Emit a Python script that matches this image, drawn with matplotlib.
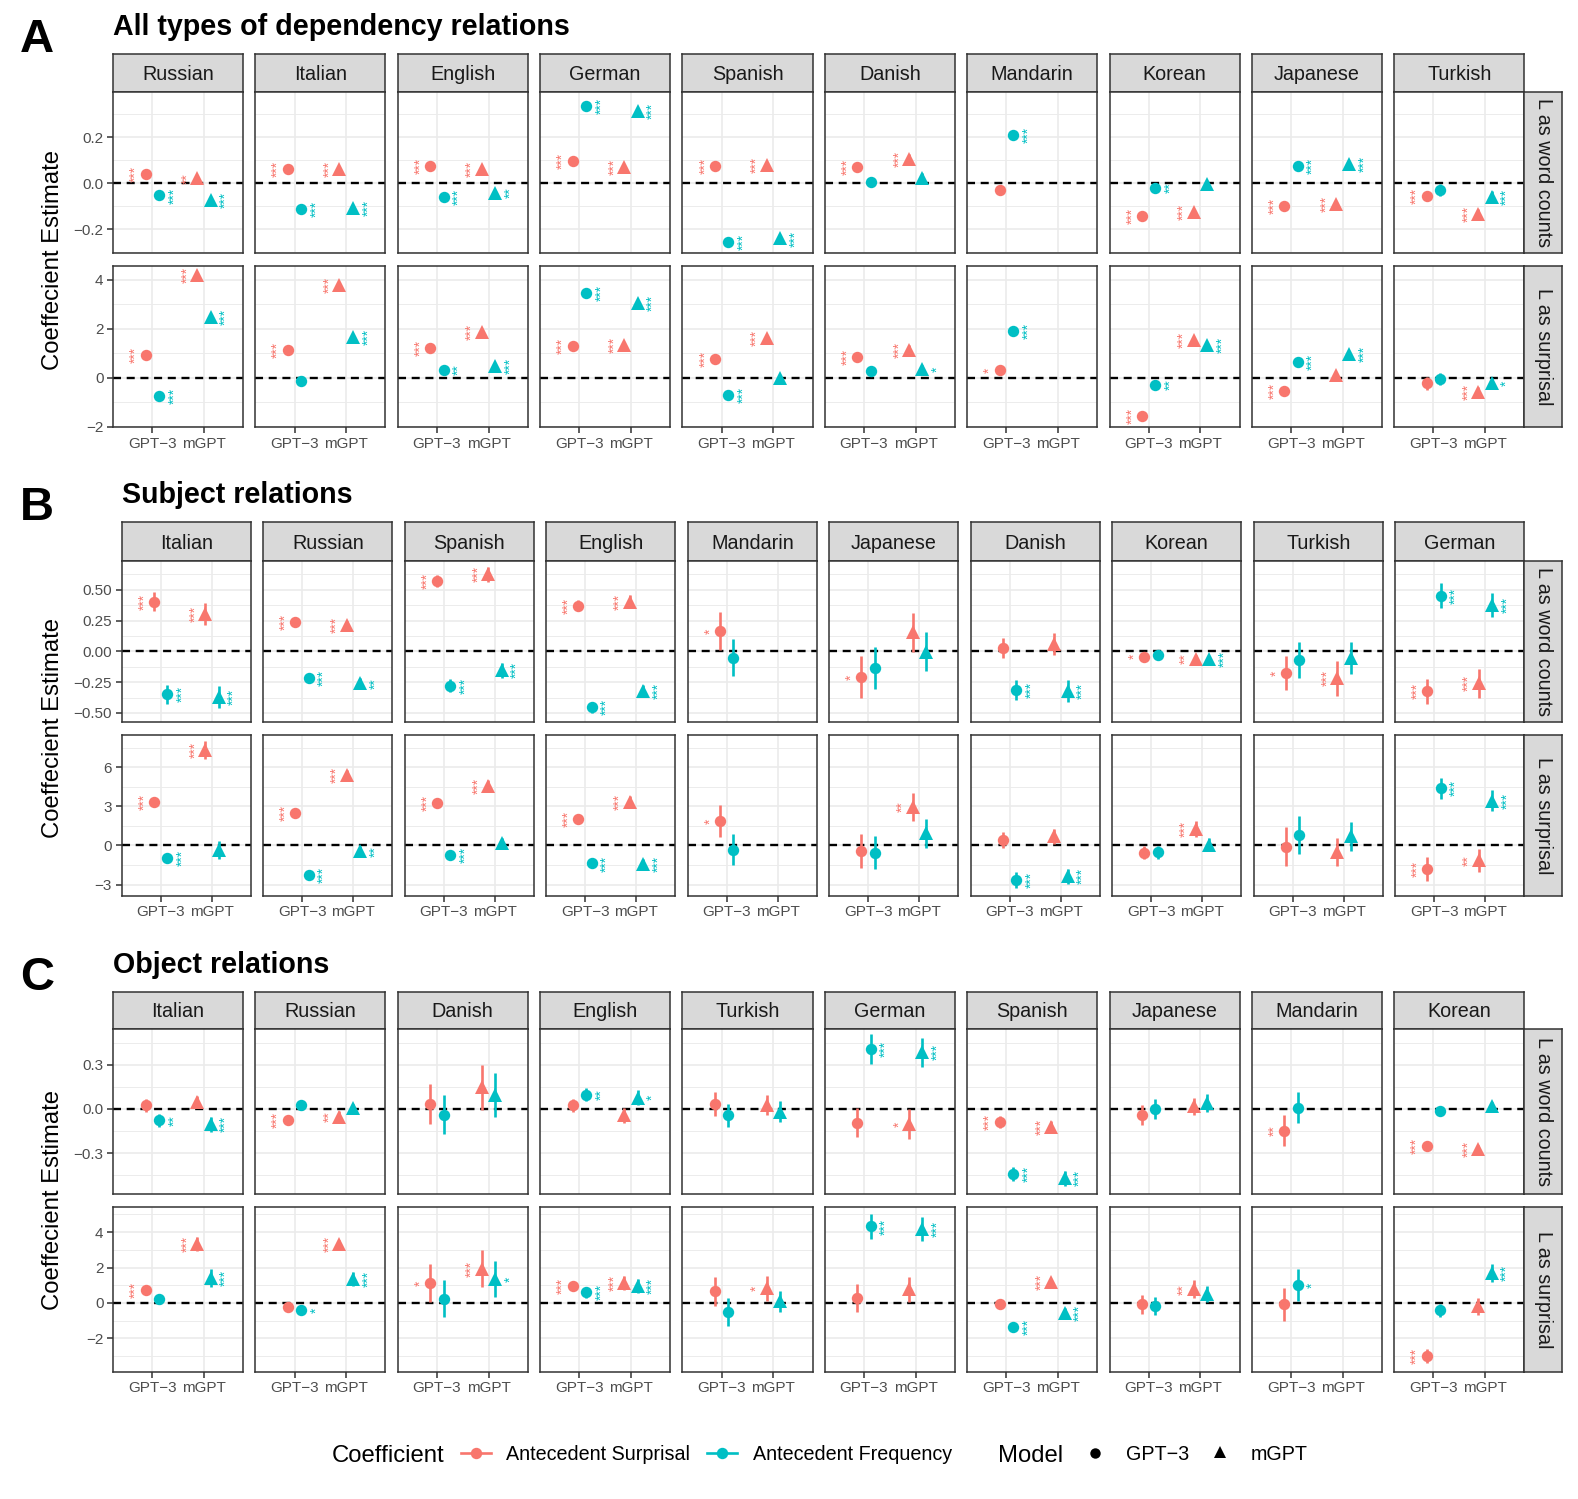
import matplotlib
matplotlib.use("Agg")
import matplotlib.pyplot as plt
import numpy as np

plt.rcParams['font.family'] = ['Liberation Sans', 'DejaVu Sans']

W, H = 1578, 1499
RED = '#F8766D'
CYAN = '#00BFC4'

MODELS = ["GPT\u22123", "mGPT"]
COEFS = ["Antecedent Surprisal", "Antecedent Frequency"]
ROW_LABELS = ["L as word counts", "L as surprisal"]
Y_TITLE = "Coeffecient Estimate"

# ---------------- Panel A: All types of dependency relations ----------------
A_TITLE = "All types of dependency relations"
A_LANGS = ["Russian", "Italian", "English", "German", "Spanish", "Danish",
           "Mandarin", "Korean", "Japanese", "Turkish"]
# word counts
A_WC_S_G = [0.039, 0.063, 0.074, 0.099, 0.077, 0.070, -0.029, -0.141, -0.100, -0.057]
A_WC_F_G = [-0.053, -0.111, -0.060, 0.337, -0.254, 0.004, 0.209, -0.019, 0.076, -0.029]
A_WC_S_M = [0.022, 0.063, 0.063, 0.073, 0.080, 0.106, None, -0.123, -0.091, -0.134]
A_WC_F_M = [-0.073, -0.109, -0.041, 0.316, -0.240, 0.023, None, -0.004, 0.084, -0.059]
A_WC_S_G_ERR = [0.008, 0.008, 0.008, 0.010, 0.008, 0.015, 0.020, 0.010, 0.010, 0.020]
A_WC_F_G_ERR = [0.008, 0.008, 0.008, 0.010, 0.008, 0.018, 0.020, 0.010, 0.010, 0.025]
A_WC_S_M_ERR = [0.008, 0.008, 0.008, 0.010, 0.008, 0.020, None, 0.010, 0.010, 0.020]
A_WC_F_M_ERR = [0.008, 0.008, 0.008, 0.010, 0.008, 0.020, None, 0.010, 0.010, 0.025]
A_WC_S_G_SIG = ["***", "***", "***", "***", "***", "***", "", "***", "***", "***"]
A_WC_F_G_SIG = ["***", "***", "***", "***", "***", "", "***", "**", "***", ""]
A_WC_S_M_SIG = ["**", "***", "***", "***", "***", "***", None, "***", "***", "***"]
A_WC_F_M_SIG = ["***", "***", "**", "***", "***", "", None, "", "***", "***"]
# surprisal
A_SU_S_G = [0.95, 1.16, 1.22, 1.31, 0.76, 0.84, 0.31, -1.54, -0.52, -0.22]
A_SU_F_G = [-0.72, -0.12, 0.33, 3.47, -0.71, 0.29, 1.90, -0.27, 0.65, -0.05]
A_SU_S_M = [4.20, 3.78, 1.86, 1.35, 1.63, 1.14, None, 1.55, 0.12, -0.56]
A_SU_F_M = [2.48, 1.69, 0.50, 3.07, -0.01, 0.35, None, 1.35, 0.98, -0.22]
A_SU_S_G_ERR = [0.10, 0.10, 0.10, 0.10, 0.10, 0.15, 0.20, 0.12, 0.12, 0.25]
A_SU_F_G_ERR = [0.10, 0.10, 0.10, 0.10, 0.10, 0.15, 0.20, 0.12, 0.12, 0.25]
A_SU_S_M_ERR = [0.10, 0.10, 0.10, 0.10, 0.10, 0.20, None, 0.12, 0.12, 0.20]
A_SU_F_M_ERR = [0.10, 0.10, 0.10, 0.10, 0.10, 0.20, None, 0.12, 0.12, 0.20]
A_SU_S_G_SIG = ["***", "***", "***", "***", "***", "***", "*", "***", "***", ""]
A_SU_F_G_SIG = ["***", "", "**", "***", "***", "", "***", "**", "***", ""]
A_SU_S_M_SIG = ["***", "***", "***", "***", "***", "***", None, "***", "", "***"]
A_SU_F_M_SIG = ["***", "***", "***", "***", "", "*", None, "***", "***", "*"]
A_WC_TICKS = [-0.2, 0.0, 0.2]
A_WC_TICKLABELS = ["\u22120.2", "0.0", "0.2"]
A_SU_TICKS = [-2, 0, 2, 4]
A_SU_TICKLABELS = ["\u22122", "0", "2", "4"]

# ---------------- Panel B: Subject relations ----------------
B_TITLE = "Subject relations"
B_LANGS = ["Italian", "Russian", "Spanish", "English", "Mandarin", "Japanese",
           "Danish", "Korean", "Turkish", "German"]
B_WC_S_G = [0.403, 0.238, 0.570, 0.370, 0.162, -0.211, 0.027, -0.043, -0.176, -0.324]
B_WC_F_G = [-0.349, -0.216, -0.278, -0.454, -0.051, -0.132, -0.314, -0.032, -0.073, 0.451]
B_WC_S_M = [0.305, 0.214, 0.624, 0.403, None, 0.154, 0.057, -0.062, -0.219, -0.260]
B_WC_F_M = [-0.370, -0.260, -0.154, -0.319, None, -0.003, -0.319, -0.065, -0.051, 0.376]
B_WC_S_G_ERR = [0.075, 0.030, 0.050, 0.045, 0.155, 0.170, 0.080, 0.020, 0.140, 0.100]
B_WC_F_G_ERR = [0.075, 0.040, 0.050, 0.045, 0.150, 0.170, 0.080, 0.020, 0.145, 0.100]
B_WC_S_M_ERR = [0.090, 0.030, 0.060, 0.050, None, 0.160, 0.090, 0.030, 0.140, 0.120]
B_WC_F_M_ERR = [0.090, 0.040, 0.060, 0.050, None, 0.160, 0.090, 0.030, 0.130, 0.100]
B_WC_S_G_SIG = ["***", "***", "***", "***", "*", "*", "", "*", "*", "***"]
B_WC_F_G_SIG = ["***", "***", "***", "***", "", "", "***", "", "", "***"]
B_WC_S_M_SIG = ["***", "***", "***", "***", None, "", "", "**", "***", "***"]
B_WC_F_M_SIG = ["***", "**", "***", "***", None, "", "***", "***", "", "***"]
B_SU_S_G = [3.37, 2.50, 3.29, 2.04, 1.89, -0.41, 0.41, -0.54, -0.08, -1.79]
B_SU_F_G = [-0.97, -2.24, -0.71, -1.38, -0.33, -0.54, -2.63, -0.51, 0.82, 4.39]
B_SU_S_M = [7.30, 5.38, 4.59, 3.37, None, 2.96, 0.69, 1.28, -0.51, -1.15]
B_SU_F_M = [-0.33, -0.46, 0.18, -1.40, None, 0.94, -2.37, 0.05, 0.69, 3.42]
B_SU_S_G_ERR = [0.30, 0.30, 0.30, 0.30, 1.25, 1.30, 0.60, 0.50, 1.50, 0.90]
B_SU_F_G_ERR = [0.30, 0.30, 0.30, 0.30, 1.20, 1.25, 0.60, 0.50, 1.45, 0.80]
B_SU_S_M_ERR = [0.70, 0.40, 0.40, 0.40, None, 1.10, 0.60, 0.60, 1.10, 0.90]
B_SU_F_M_ERR = [0.70, 0.40, 0.40, 0.40, None, 1.10, 0.60, 0.50, 1.10, 0.80]
B_SU_S_G_SIG = ["***", "***", "***", "***", "*", "", "", "", "", "***"]
B_SU_F_G_SIG = ["***", "***", "***", "***", "", "", "***", "", "", "***"]
B_SU_S_M_SIG = ["***", "***", "***", "***", None, "**", "", "***", "", "**"]
B_SU_F_M_SIG = ["", "**", "", "***", None, "", "***", "", "", "***"]
B_WC_TICKS = [-0.5, -0.25, 0.0, 0.25, 0.5]
B_WC_TICKLABELS = ["\u22120.50", "\u22120.25", "0.00", "0.25", "0.50"]
B_SU_TICKS = [-3, 0, 3, 6]
B_SU_TICKLABELS = ["\u22123", "0", "3", "6"]

# ---------------- Panel C: Object relations ----------------
C_TITLE = "Object relations"
C_LANGS = ["Italian", "Russian", "Danish", "English", "Turkish", "German",
           "Spanish", "Japanese", "Mandarin", "Korean"]
C_WC_S_G = [0.023, -0.075, 0.034, 0.025, 0.032, -0.093, -0.091, -0.043, -0.147, -0.254]
C_WC_F_G = [-0.077, 0.029, -0.039, 0.095, -0.045, 0.406, -0.442, 0.000, 0.007, -0.014]
C_WC_S_M = [0.045, -0.052, 0.145, -0.045, 0.027, -0.104, -0.120, 0.016, None, -0.274]
C_WC_F_M = [-0.104, 0.005, 0.095, 0.077, -0.018, 0.383, -0.472, 0.039, None, 0.016]
C_WC_S_G_ERR = [0.045, 0.030, 0.137, 0.045, 0.080, 0.100, 0.040, 0.070, 0.107, 0.030]
C_WC_F_G_ERR = [0.045, 0.030, 0.135, 0.045, 0.080, 0.100, 0.050, 0.070, 0.105, 0.030]
C_WC_S_M_ERR = [0.040, 0.040, 0.150, 0.050, 0.070, 0.100, 0.040, 0.060, None, 0.030]
C_WC_F_M_ERR = [0.050, 0.030, 0.150, 0.050, 0.070, 0.100, 0.050, 0.060, None, 0.030]
C_WC_S_G_SIG = ["", "***", "", "", "", "", "***", "", "**", "***"]
C_WC_F_G_SIG = ["**", "", "", "**", "", "***", "***", "", "", ""]
C_WC_S_M_SIG = ["", "**", "", "", "", "*", "***", "", None, "***"]
C_WC_F_M_SIG = ["***", "", "", "*", "", "***", "***", "", None, ""]
C_SU_S_G = [0.72, -0.25, 1.11, 0.96, 0.66, 0.26, -0.06, -0.08, -0.08, -3.02]
C_SU_F_G = [0.21, -0.40, 0.23, 0.60, -0.53, 4.32, -1.34, -0.17, 1.02, -0.43]
C_SU_S_M = [3.32, 3.32, 1.94, 1.11, 0.83, 0.77, 1.17, 0.77, None, -0.20]
C_SU_F_M = [1.40, 1.34, 1.34, 0.96, 0.08, 4.17, -0.58, 0.51, None, 1.68]
C_SU_S_G_ERR = [0.30, 0.20, 1.08, 0.30, 0.82, 0.80, 0.20, 0.55, 0.92, 0.40]
C_SU_F_G_ERR = [0.30, 0.25, 1.05, 0.30, 0.80, 0.70, 0.20, 0.50, 0.92, 0.35]
C_SU_S_M_ERR = [0.40, 0.25, 1.05, 0.40, 0.70, 0.70, 0.20, 0.50, None, 0.50]
C_SU_F_M_ERR = [0.50, 0.40, 1.00, 0.40, 0.60, 0.70, 0.30, 0.45, None, 0.50]
C_SU_S_G_SIG = ["***", "", "*", "***", "", "", "", "", "", "***"]
C_SU_F_G_SIG = ["", "*", "", "***", "", "***", "***", "", "*", ""]
C_SU_S_M_SIG = ["***", "***", "***", "***", "*", "", "***", "**", None, ""]
C_SU_F_M_SIG = ["***", "***", "*", "***", "", "***", "***", "", None, "***"]
C_WC_TICKS = [-0.3, 0.0, 0.3]
C_WC_TICKLABELS = ["\u22120.3", "0.0", "0.3"]
C_SU_TICKS = [-2, 0, 2, 4]
C_SU_TICKLABELS = ["\u22122", "0", "2", "4"]

# ---------------- drawing ----------------
fig = plt.figure(figsize=(W / 100, H / 100), dpi=100)
fig.patch.set_facecolor('white')

BORDER = '#333333'
GRID = '#EBEBEB'
DODGE = 0.13
STAR_OFF = [-0.19, 0.295]   # rotated-text box offsets (left for surprisal, right for frequency)
COLS = [RED, CYAN]
MARKERS = ['o', '^']
MSIZE = [8.2, 9.4]
GAP = 12.3
RIGHT = 1524.3
RSTRIP_W = 38


def px_axes(x0, y0, x1, y1):
    return fig.add_axes([x0 / W, 1 - y1 / H, (x1 - x0) / W, (y1 - y0) / H])


def style_spines(ax):
    for s in ax.spines.values():
        s.set_color(BORDER)
        s.set_linewidth(1.1)


def draw_panel(letter, title, langs, left, strip_top, rows, row_data):
    n = len(langs)
    w = (RIGHT - left - GAP * (n - 1)) / n
    title_base = strip_top - 19
    fig.text(20 / W, 1 - (title_base + 17) / H, letter, fontsize=34,
             fontweight='bold', ha='left', va='baseline')
    fig.text(left / W, 1 - title_base / H, title, fontsize=20.6,
             fontweight='bold', ha='left', va='baseline')
    ycen = (rows[0][0] + rows[-1][1]) / 2
    fig.text(53 / W, 1 - ycen / H, Y_TITLE, rotation=90, fontsize=17.2,
             ha='center', va='center')
    for i, lang in enumerate(langs):
        x0 = left + i * (w + GAP)
        sax = px_axes(x0, strip_top, x0 + w, rows[0][0])
        sax.set_facecolor('#D9D9D9')
        sax.set_xticks([]); sax.set_yticks([])
        style_spines(sax)
        sax.text(0.5, 0.31, lang, transform=sax.transAxes, ha='center',
                 va='baseline', fontsize=14.2, color='#1A1A1A')
    for r, (ytop, ybot) in enumerate(rows):
        ests, errs, sigs, ylim, ticks, ticklabels = row_data[r]
        step = ticks[1] - ticks[0]
        minors = np.arange(ticks[0] - step / 2, ticks[-1] + step, step)
        minors = [m for m in minors if ylim[0] <= m <= ylim[1]]
        for i in range(n):
            x0 = left + i * (w + GAP)
            ax = px_axes(x0, ytop, x0 + w, ybot)
            ax.set_xlim(0.24, 2.76)
            ax.set_ylim(*ylim)
            ax.set_axisbelow(True)
            ax.set_xticks([1, 2])
            ax.set_xticklabels(MODELS)
            ax.set_yticks(ticks)
            ax.set_yticklabels(ticklabels)
            ax.set_yticks(minors, minor=True)
            ax.grid(True, which='major', color=GRID, lw=1.2)
            ax.grid(True, which='minor', axis='y', color=GRID, lw=0.65)
            ax.tick_params(which='minor', length=0)
            ax.tick_params(which='major', length=4.4, width=1.1, color=BORDER,
                           labelsize=11, labelcolor='#4D4D4D', pad=2.5)
            if i > 0:
                ax.tick_params(axis='y', which='major', left=False, labelleft=False)
            if r == 0:
                ax.tick_params(axis='x', which='major', bottom=False, labelbottom=False)
            style_spines(ax)
            ax.axhline(0, color='black', lw=1.7, ls=(0, (3.4, 2.4)), zorder=1.5)
            for k in range(4):
                c, m = k % 2, k // 2
                v = ests[k][i]
                if v is None:
                    continue
                x = (m + 1) + (-DODGE if c == 0 else DODGE)
                e = errs[k][i]
                ax.vlines(x, v - e, v + e, color=COLS[c], lw=1.9, zorder=3)
                ax.plot([x], [v], marker=MARKERS[m], ms=MSIZE[m], color=COLS[c],
                        mew=0, ls='none', zorder=4)
                s = sigs[k][i]
                if s:
                    ax.text(x + STAR_OFF[c], v, s, rotation=90, ha='center',
                            va='center', fontsize=10, color=COLS[c], zorder=4)
        rax = px_axes(RIGHT, ytop, RIGHT + RSTRIP_W, ybot)
        rax.set_facecolor('#D9D9D9')
        rax.set_xticks([]); rax.set_yticks([])
        style_spines(rax)
        rax.text(0.5, 0.5, ROW_LABELS[r], transform=rax.transAxes, rotation=270,
                 ha='center', va='center', fontsize=14.2, color='#1A1A1A')


draw_panel("A", A_TITLE, A_LANGS, 113, 54, [(92.3, 252.7), (266, 427)], [
    ([A_WC_S_G, A_WC_F_G, A_WC_S_M, A_WC_F_M],
     [A_WC_S_G_ERR, A_WC_F_G_ERR, A_WC_S_M_ERR, A_WC_F_M_ERR],
     [A_WC_S_G_SIG, A_WC_F_G_SIG, A_WC_S_M_SIG, A_WC_F_M_SIG],
     (-0.302, 0.396), A_WC_TICKS, A_WC_TICKLABELS),
    ([A_SU_S_G, A_SU_F_G, A_SU_S_M, A_SU_F_M],
     [A_SU_S_G_ERR, A_SU_F_G_ERR, A_SU_S_M_ERR, A_SU_F_M_ERR],
     [A_SU_S_G_SIG, A_SU_F_G_SIG, A_SU_S_M_SIG, A_SU_F_M_SIG],
     (-2.0, 4.57), A_SU_TICKS, A_SU_TICKLABELS),
])

draw_panel("B", B_TITLE, B_LANGS, 121.7, 522.3, [(560.7, 722), (735, 895.7)], [
    ([B_WC_S_G, B_WC_F_G, B_WC_S_M, B_WC_F_M],
     [B_WC_S_G_ERR, B_WC_F_G_ERR, B_WC_S_M_ERR, B_WC_F_M_ERR],
     [B_WC_S_G_SIG, B_WC_F_G_SIG, B_WC_S_M_SIG, B_WC_F_M_SIG],
     (-0.573, 0.735), B_WC_TICKS, B_WC_TICKLABELS),
    ([B_SU_S_G, B_SU_F_G, B_SU_S_M, B_SU_F_M],
     [B_SU_S_G_ERR, B_SU_F_G_ERR, B_SU_S_M_ERR, B_SU_F_M_ERR],
     [B_SU_S_G_SIG, B_SU_F_G_SIG, B_SU_S_M_SIG, B_SU_F_M_SIG],
     (-3.85, 8.47), B_SU_TICKS, B_SU_TICKLABELS),
])

draw_panel("C", C_TITLE, C_LANGS, 113, 991.7, [(1029, 1194), (1207, 1371.7)], [
    ([C_WC_S_G, C_WC_F_G, C_WC_S_M, C_WC_F_M],
     [C_WC_S_G_ERR, C_WC_F_G_ERR, C_WC_S_M_ERR, C_WC_F_M_ERR],
     [C_WC_S_G_SIG, C_WC_F_G_SIG, C_WC_S_M_SIG, C_WC_F_M_SIG],
     (-0.578, 0.542), C_WC_TICKS, C_WC_TICKLABELS),
    ([C_SU_S_G, C_SU_F_G, C_SU_S_M, C_SU_F_M],
     [C_SU_S_G_ERR, C_SU_F_G_ERR, C_SU_S_M_ERR, C_SU_F_M_ERR],
     [C_SU_S_G_SIG, C_SU_F_G_SIG, C_SU_S_M_SIG, C_SU_F_M_SIG],
     (-3.89, 5.42), C_SU_TICKS, C_SU_TICKLABELS),
])

# ---------------- legend ----------------
lax = fig.add_axes([0, 0, 1, 1], zorder=-1)
lax.set_xlim(0, W)
lax.set_ylim(H, 0)
lax.axis('off')
LY = 1453
lax.text(332, LY + 8.5, "Coefficient", fontsize=17.2, ha='left', va='baseline')
for xc, col, lab, xl in [(476, RED, COEFS[0], 506), (722, CYAN, COEFS[1], 753)]:
    lax.plot([xc - 15, xc + 15], [LY, LY], color=col, lw=1.9)
    lax.plot([xc], [LY], marker='o', color=col, ms=8.2, mew=0)
    lax.text(xl, LY + 7, lab, fontsize=14.2, ha='left', va='baseline')
lax.text(998, LY + 8.5, "Model", fontsize=17.2, ha='left', va='baseline')
lax.plot([1095], [LY], marker='o', color='black', ms=7.5, mew=0)
lax.text(1126, LY + 7, MODELS[0], fontsize=14.2, ha='left', va='baseline')
lax.plot([1220], [LY - 1], marker='^', color='black', ms=8.5, mew=0)
lax.text(1251, LY + 7, MODELS[1], fontsize=14.2, ha='left', va='baseline')

fig.savefig("out.png", dpi=100, facecolor='white')
